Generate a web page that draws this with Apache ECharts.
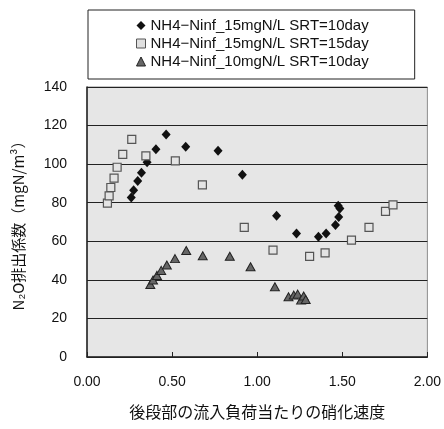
<!DOCTYPE html>
<html>
<head>
<meta charset="utf-8">
<script src="https://cdn.jsdelivr.net/npm/echarts@6/dist/echarts.min.js"></script>
<style>
  html, body { margin: 0; padding: 0; background: #ffffff; }
  #chart { width: 444px; height: 429px; }
</style>
</head>
<body>
<div id="chart"></div>
<script>
// Series names shown in the legend
const seriesNames = [
  'NH4\u2212Ninf_15mgN/L SRT=10day',
  'NH4\u2212Ninf_15mgN/L SRT=15day',
  'NH4\u2212Ninf_10mgN/L SRT=10day'
];

// [nitrification rate per inflow load, N2O emission factor]
const inf15Srt10 = [
  [0.26, 82.7], [0.274, 86.5], [0.298, 91.2], [0.32, 95.6], [0.353, 101.0],
  [0.405, 107.7], [0.465, 115.4], [0.58, 109.0], [0.77, 106.9], [0.913, 94.5],
  [1.114, 73.2], [1.231, 64.1], [1.36, 62.4], [1.405, 64.1], [1.46, 68.4],
  [1.479, 72.6], [1.476, 78.4], [1.486, 77.0]
];
const inf15Srt15 = [
  [0.12, 79.8], [0.13, 83.5], [0.14, 87.9], [0.159, 92.8], [0.177, 98.4],
  [0.21, 105.1], [0.263, 112.8], [0.346, 104.3], [0.519, 101.7], [0.678, 89.3],
  [0.924, 67.2], [1.093, 55.4], [1.308, 52.2], [1.399, 54.0], [1.554, 60.6],
  [1.657, 67.2], [1.754, 75.5], [1.798, 78.9]
];
const inf10Srt10 = [
  [0.372, 37.6], [0.388, 39.9], [0.411, 42.3], [0.436, 44.9], [0.469, 47.7],
  [0.517, 51.0], [0.583, 55.2], [0.68, 52.5], [0.839, 52.2], [0.961, 46.8],
  [1.104, 36.4], [1.184, 31.2], [1.215, 32.1], [1.238, 32.6], [1.258, 29.5],
  [1.273, 31.6], [1.285, 29.8]
];

// Axis settings
const xMin = 0, xMax = 2, xStep = 0.5;
const yMin = 0, yMax = 140, yStep = 20;
const xTitle = '後段部の流入負荷当たりの硝化速度';
const yTitle = 'N\u2082O排出係数（mgN/m\u00b3）';

const numFont = '"Liberation Sans", Arial, sans-serif';
const jpFont = '"Noto Sans CJK JP", sans-serif';

const chart = echarts.init(document.getElementById('chart'), null, { renderer: 'canvas' });

chart.setOption({
  animation: false,
  backgroundColor: '#ffffff',
  grid: {
    left: 87, top: 87, right: 13, bottom: 72,
    show: true,
    backgroundColor: '#e6e6e6',
    borderColor: '#8c8c8c',
    borderWidth: 1
  },
  legend: {
    orient: 'vertical',
    left: 88,
    top: 10,
    padding: [8, 46, 10, 48],
    itemGap: 3,
    itemWidth: 9,
    itemHeight: 9,
    borderColor: '#222',
    borderWidth: 1,
    backgroundColor: '#ffffff',
    textStyle: { fontFamily: numFont, fontSize: 15, color: '#111', lineHeight: 15 },
    data: [
      { name: seriesNames[0], icon: 'diamond', itemStyle: { color: '#111', borderWidth: 0 } },
      { name: seriesNames[1], icon: 'rect', itemStyle: { color: '#e0e0e0', borderColor: '#555', borderWidth: 1 } },
      { name: seriesNames[2], icon: 'triangle', itemStyle: { color: '#666', borderColor: '#222', borderWidth: 1 } }
    ]
  },
  xAxis: {
    type: 'value',
    min: xMin, max: xMax, interval: xStep,
    name: xTitle,
    nameLocation: 'middle',
    nameGap: 47,
    nameTextStyle: { fontFamily: jpFont, fontSize: 16, color: '#111' },
    axisLine: { onZero: false, lineStyle: { color: '#222', width: 1.5 } },
    axisTick: { show: true, inside: true, length: 5, lineStyle: { color: '#222' } },
    axisLabel: {
      fontFamily: numFont, fontSize: 14, color: '#111', margin: 18,
      formatter: v => v.toFixed(2)
    },
    splitLine: { show: false }
  },
  yAxis: {
    type: 'value',
    min: yMin, max: yMax, interval: yStep,
    name: yTitle,
    nameLocation: 'middle',
    nameRotate: 90,
    nameGap: 61,
    nameTextStyle: { fontFamily: jpFont, fontSize: 15, color: '#111' },
    axisLine: { show: true, lineStyle: { color: '#222', width: 1.5 } },
    axisTick: { show: false },
    axisLabel: { fontFamily: numFont, fontSize: 14, color: '#111', margin: 20 },
    splitLine: { show: true, lineStyle: { color: '#222', width: 1 } }
  },
  series: [
    {
      name: seriesNames[0],
      type: 'scatter',
      data: inf15Srt10,
      symbol: 'diamond',
      symbolSize: [9, 10],
      itemStyle: { color: '#111', borderWidth: 0, opacity: 1 }
    },
    {
      name: seriesNames[1],
      type: 'scatter',
      data: inf15Srt15,
      symbol: 'rect',
      symbolSize: 8,
      itemStyle: { color: '#e4e4e4', borderColor: '#555', borderWidth: 1.2, opacity: 1 }
    },
    {
      name: seriesNames[2],
      type: 'scatter',
      data: inf10Srt10,
      symbol: 'triangle',
      symbolSize: [9, 8],
      itemStyle: { color: '#666', borderColor: '#222', borderWidth: 1, opacity: 1 }
    }
  ]
});
</script>
</body>
</html>
